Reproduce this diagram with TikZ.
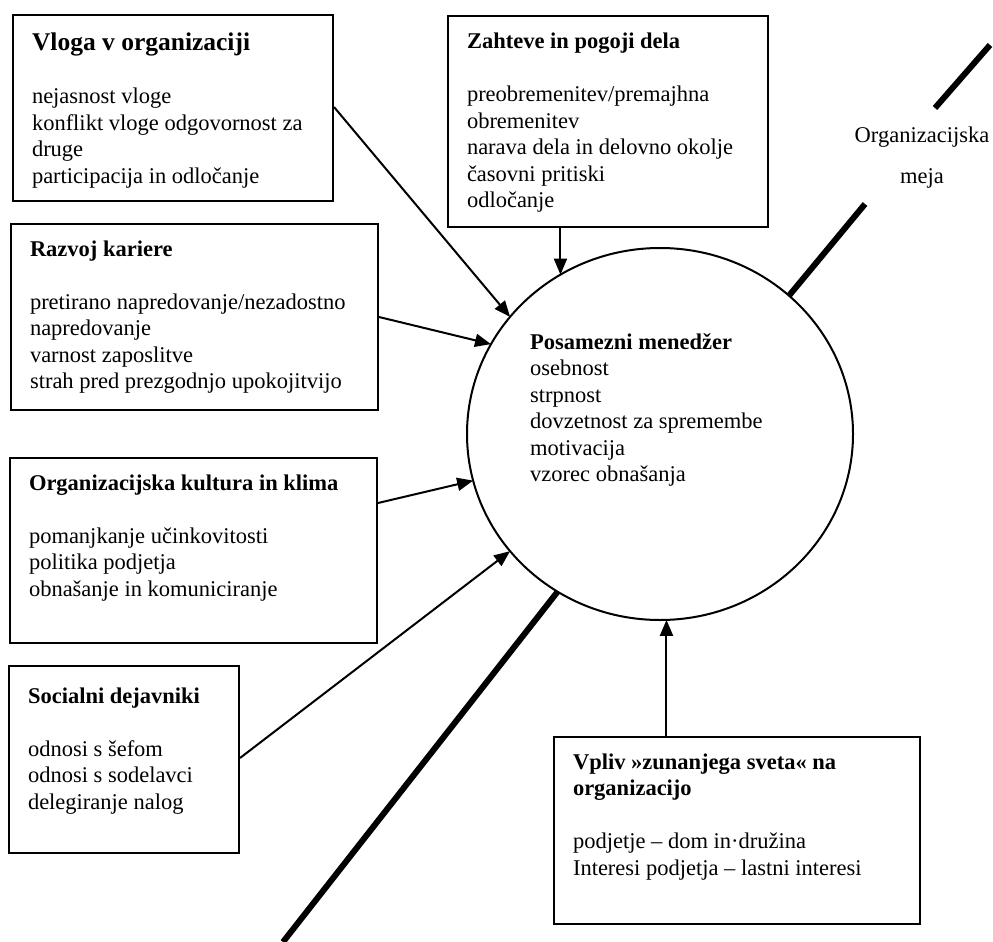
\documentclass[tikz,border=0pt]{standalone}
\usepackage{fontspec}
\setmainfont{Liberation Serif}
\usetikzlibrary{arrows.meta,shapes.geometric,calc}
\newcommand\bxtext[3]{\parbox[t][#1][t]{#2}{\raggedright\strut #3}}
\begin{document}
\begin{tikzpicture}[x=1pt,y=-1pt,
  every node/.style={font=\fontsize{22.5}{26.5}\selectfont},
  factor/.style={draw, line width=2pt, anchor=north west, inner xsep=19pt},
  arr/.style={line width=2pt, -{Triangle[length=16pt,width=13pt]}},
  border/.style={line width=6pt}]
\useasboundingbox (0,0) rectangle (993,942);
\fill[white] (0,0) rectangle (993,942);

% manager
\node[ellipse, draw, line width=2pt, minimum width=386pt, minimum height=372pt,
      inner sep=0pt, outer sep=0pt] (manager) at (660,434) {};
\node[anchor=base west, inner sep=0pt] (mtext) at (530,349)
  {\parbox[t]{290pt}{\raggedright\textbf{Posamezni menedžer}\\ osebnost\\ strpnost\\ dovzetnost za spremembe\\ motivacija\\ vzorec obnašanja}};

% factor boxes
\node[factor, inner ysep=17.45pt] (vloga) at (12,14)
  {\bxtext{151.1pt}{282pt}{{\fontsize{25.5}{26.5}\selectfont\bfseries Vloga v organizaciji}\\[26.5pt]
   nejasnost vloge\\ konflikt vloge odgovornost za\\ druge\\ participacija in odločanje}};

\node[factor, inner ysep=14.45pt] (zahteve) at (447,15)
  {\bxtext{182.1pt}{282pt}{\textbf{Zahteve in pogoji dela}\\[26.5pt]
   preobremenitev/premajhna\\ obremenitev\\ narava dela in delovno okolje\\ časovni pritiski\\ odločanje}};

\node[factor, inner ysep=13.45pt] (razvoj) at (10,223)
  {\bxtext{159.1pt}{329pt}{\textbf{Razvoj kariere}\\[26.5pt]
   pretirano napredovanje/nezadostno\\ napredovanje\\ varnost zaposlitve\\ strah pred prezgodnjo upokojitvijo}};

\node[factor, inner ysep=13.45pt] (kultura) at (9,457)
  {\bxtext{158.1pt}{329pt}{\textbf{Organizacijska kultura in klima}\\[26.5pt]
   pomanjkanje učinkovitosti\\ politika podjetja\\ obnašanje in komuniciranje}};

\node[factor, inner ysep=18.45pt] (socialni) at (8,665)
  {\bxtext{150.1pt}{192pt}{\textbf{Socialni dejavniki}\\[26.5pt]
   odnosi s šefom\\ odnosi s sodelavci\\ delegiranje nalog}};

\node[factor, inner ysep=13.45pt] (vpliv) at (553,736)
  {\bxtext{160.1pt}{328pt}{\textbf{Vpliv »zunanjega sveta« na}\\ \textbf{organizacijo}\\[26.5pt]
   podjetje – dom in·družina\\ Interesi podjetja – lastni interesi}};

% boundary label
\node[anchor=base, inner sep=0pt] (meja1) at (922,142) {Organizacijska};
\node[anchor=base, inner sep=0pt] (meja2) at (922,183) {meja};

% arrows
\draw[arr] ($(vloga.north east)+(0,93)$) -- (manager.142);
\draw[arr] (zahteve.south -| manager.122) -- (manager.122);
\draw[arr] ($(razvoj.north east)+(0,94)$) -- (manager.152);
\draw[arr] ($(kultura.north east)+(0,46)$) -- (manager.194);
\draw[arr] ($(socialni.north east)+(0,93)$) -- (manager.218);
\draw[arr] (vpliv.north -| manager.272) -- (manager.272);

% organisational boundary
\coordinate (bl) at (283,942);
\coordinate (tr1) at (865,204);
\coordinate (tr2a) at (935,108);
\coordinate (tr2b) at (990,45);
\draw[border] (manager.237) -- (bl);
\draw[border] (manager.47) -- (tr1);
\draw[border] (tr2a) -- (tr2b);
\end{tikzpicture}
\end{document}
